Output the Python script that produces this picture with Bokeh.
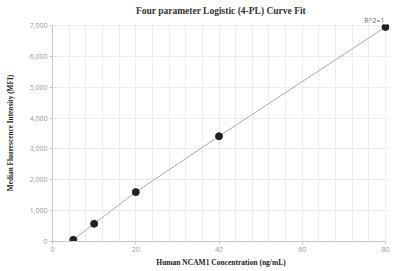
from bokeh.plotting import figure
from bokeh.models import Range1d, SingleIntervalTicker, NumeralTickFormatter, ColumnDataSource, Title
from bokeh.embed import file_html
from bokeh.resources import INLINE

# Data
conc = [5, 10, 20, 40, 80]
mfi = [55, 575, 1600, 3410, 6950]
r2_text = "R^2=1"
title_text = "Four parameter Logistic (4-PL) Curve Fit"
x_label = "Human NCAM1 Concentration (ng/mL)"
y_label = "Median Fluorescence Intensity (MFI)"

src = ColumnDataSource(data=dict(x=conc, y=mfi))

p = figure(width=396, height=271, output_backend="svg", toolbar_location=None,
           x_range=Range1d(0, 80.96), y_range=Range1d(0, 7030),
           min_border_left=52, min_border_right=7, min_border_top=24, min_border_bottom=30)
p.outline_line_color = None
p.background_fill_color = "white"
p.border_fill_color = "white"

p.title.text = title_text
p.title.align = "center"
p.title.text_font = "Liberation Serif"
p.title.text_font_style = "bold"
p.title.text_font_size = "9.5px"
p.title.text_color = "#333333"
p.title.standoff = -4
p.title.offset = 0

r2 = Title(text=r2_text, align="right", text_font="Open Sans", text_font_size="7px",
           text_font_style="normal", text_color="#666666", standoff=0, offset=5)
p.add_layout(r2, "above")

# Axes
for ax in (p.xaxis[0], p.yaxis[0]):
    ax.axis_line_color = "#c8c8c8"
    ax.major_tick_line_color = "#c8c8c8"
    ax.minor_tick_line_color = None
    ax.major_tick_out = 3
    ax.major_tick_in = 0
    ax.major_label_text_font = "Open Sans"
    ax.major_label_text_font_size = "7px"
    ax.major_label_text_color = "#999999"
    ax.major_label_standoff = 1
    ax.axis_label_text_font = "Liberation Serif"
    ax.axis_label_text_font_style = "bold"
    ax.axis_label_text_color = "#222222"

p.xaxis.ticker = SingleIntervalTicker(interval=20)
p.xaxis.bounds = (0, 80)
p.xaxis.axis_label = x_label
p.xaxis.axis_label_text_font_size = "7.5px"
p.xaxis.axis_label_standoff = 3

p.yaxis.ticker = SingleIntervalTicker(interval=1000)
p.yaxis.bounds = (0, 7000)
p.yaxis.formatter = NumeralTickFormatter(format="0,0")
p.yaxis.axis_label = y_label
p.yaxis.axis_label_text_font_size = "7.3px"
p.yaxis.axis_label_standoff = 12

p.xgrid.ticker = SingleIntervalTicker(interval=4)
p.xgrid.grid_line_color = "#e9ecf4"
p.ygrid.grid_line_color = "#e9ecf4"

p.line("x", "y", source=src, line_color="#aaaaaa", line_width=1)
p.scatter("x", "y", source=src, size=7, fill_color="#222222", line_color="#222222")

open("out.html", "w").write(file_html(p, INLINE))
